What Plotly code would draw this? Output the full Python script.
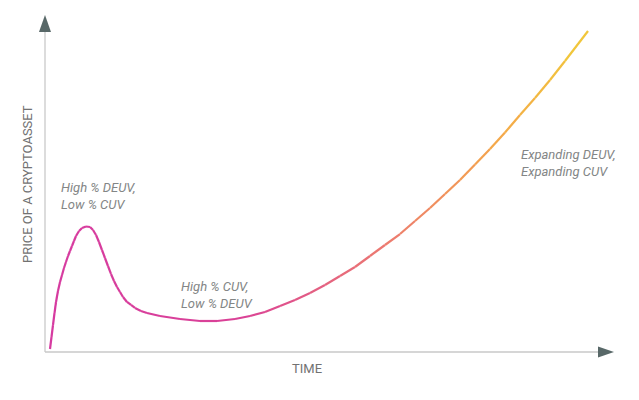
import plotly.graph_objects as go

# Curve (time 0-100, price 0-100)
time = [0.88, 1.15, 1.41, 1.68, 1.94, 2.29, 2.65, 3.00, 3.35, 3.70, 4.06, 4.41,
        4.76, 5.11, 5.47, 6.00, 6.53, 7.23, 7.94, 8.47, 9.00, 9.52,
        10.05, 10.58, 11.11, 11.64, 12.17, 12.70, 13.23, 13.76, 14.46, 15.17,
        15.87, 16.93, 17.99, 20.28, 23.81, 27.34,
        30.34, 33.51, 36.16, 38.80, 41.45, 44.09, 46.74, 49.38, 52.03, 54.67,
        57.32, 59.96, 62.61, 65.26, 67.90, 70.55, 73.19, 75.84, 78.48, 81.13,
        83.77, 86.42, 89.07, 91.71, 95.77]
price = [0.89, 4.45, 8.01, 11.57, 14.84, 18.10, 20.77, 22.85, 24.93, 26.71, 28.49, 29.97,
         31.45, 32.94, 34.42, 35.91, 36.80, 37.24, 37.09, 36.20, 34.72, 32.64,
         30.27, 27.89, 25.52, 23.15, 21.07, 19.29, 17.80, 16.32, 14.84, 13.95,
         13.06, 12.17, 11.57, 10.68, 9.79, 9.20,
         9.20, 9.79, 10.68, 11.87, 13.65, 15.43, 17.51, 19.88, 22.55, 25.22,
         28.49, 31.75, 35.01, 38.87, 42.73, 46.88, 51.04, 55.64, 60.24, 65.13,
         70.33, 75.37, 80.71, 86.35, 95.25]

labels = ["High % DEUV,<br>Low % CUV", "High % CUV,<br>Low % DEUV", "Expanding DEUV,<br>Expanding CUV"]
label_time = [2.47, 23.63, 83.6]
label_price = [46.3, 16.9, 56.2]

# gradient stops along time
stops = [(0, (214, 58, 160)), (35, (218, 66, 150)), (60, (236, 122, 112)),
         (80, (244, 168, 74)), (100, (240, 212, 52))]


def grad(t):
    for (t0, c0), (t1, c1) in zip(stops[:-1], stops[1:]):
        if t0 <= t <= t1:
            f = (t - t0) / (t1 - t0)
            return "rgb(%d,%d,%d)" % tuple(round(a + (b - a) * f) for a, b in zip(c0, c1))
    return "rgb(%d,%d,%d)" % stops[-1][1]


fig = go.Figure()
for i in range(len(time) - 1):
    tm = (time[i] + time[i + 1]) / 2
    fig.add_trace(go.Scatter(x=time[i:i + 2], y=price[i:i + 2], mode="lines",
                             line=dict(color=grad(tm), width=2.2),
                             hoverinfo="skip", showlegend=False))

axis_line = "#c9c9c9"
arrow_col = "#586868"
shapes = [
    dict(type="line", xref="paper", yref="paper", x0=0, y0=0, x1=0, y1=0.95,
         line=dict(color=axis_line, width=1.3)),
    dict(type="line", xref="paper", yref="paper", x0=0, y0=0, x1=0.978, y1=0,
         line=dict(color=axis_line, width=1.3)),
    dict(type="path", xref="paper", yref="paper",
         path="M 0 1.0 L -0.0106 0.9496 L 0.0106 0.9496 Z",
         fillcolor=arrow_col, line=dict(width=0)),
    dict(type="path", xref="paper", yref="paper",
         path="M 1.0035 0 L 0.9753 0.0163 L 0.9753 -0.0163 Z",
         fillcolor=arrow_col, line=dict(width=0)),
]

annotations = [
    dict(text="TIME", xref="paper", yref="paper", x=0.462, y=-0.0475,
         xanchor="center", yanchor="middle", showarrow=False,
         font=dict(family="Roboto", size=13, color="#727272")),
    dict(text="PRICE OF A CRYPTOASSET", xref="paper", yref="paper", x=-0.0317, y=0.4985,
         xanchor="center", yanchor="middle", showarrow=False, textangle=-90,
         font=dict(family="Roboto", size=13, color="#727272")),
]
for txt, tx, py in zip(labels, label_time, label_price):
    annotations.append(dict(text=txt, x=tx, y=py, xref="x", yref="y",
                            xanchor="left", yanchor="middle", align="left",
                            showarrow=False,
                            font=dict(family="Roboto", size=13, color="#838686",
                                      style="italic")))

fig.update_layout(
    width=631, height=384,
    margin=dict(l=37, r=27, t=7, b=40),
    paper_bgcolor="white", plot_bgcolor="white",
    xaxis=dict(range=[0, 100], visible=False, fixedrange=True),
    yaxis=dict(range=[0, 100], visible=False, fixedrange=True),
    shapes=shapes, annotations=annotations,
)

fig.write_html("out.html")
